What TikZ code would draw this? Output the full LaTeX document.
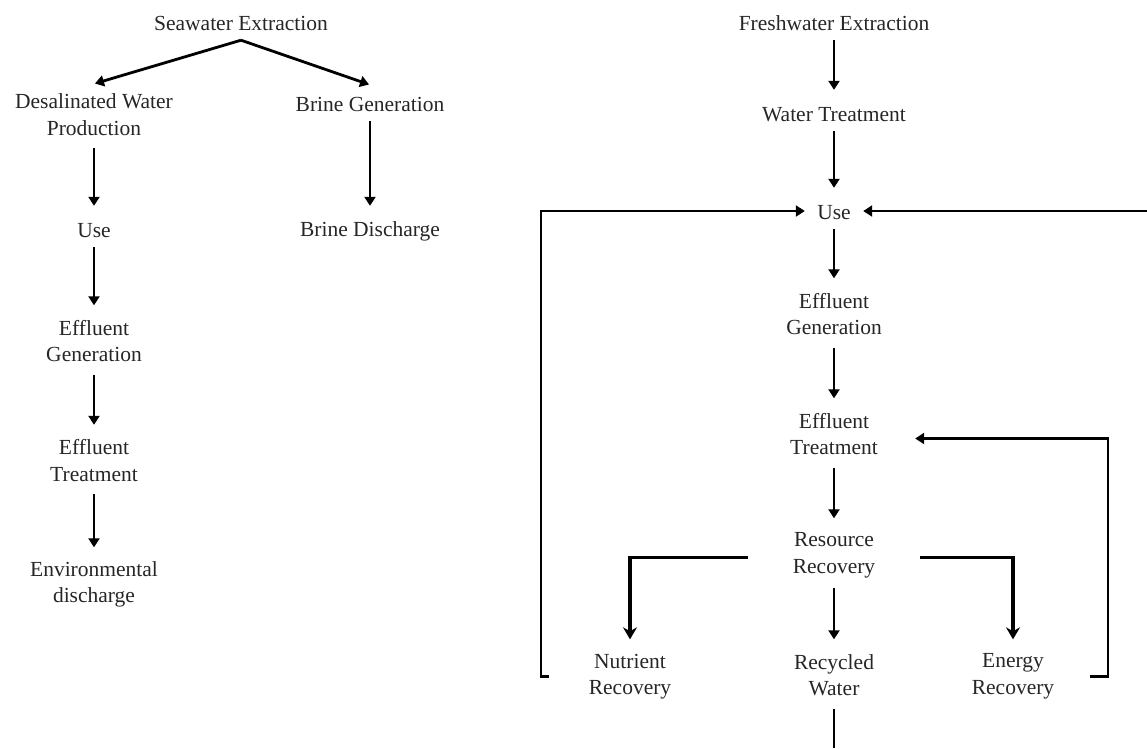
\documentclass[tikz,border=0pt]{standalone}
\usepackage{fontspec}
\setmainfont{Liberation Serif}
\usetikzlibrary{arrows.meta}
\newcommand{\mystrut}{\rule[-3pt]{0pt}{23pt}}
\begin{document}
\begin{tikzpicture}[x=1pt,y=-1pt,
 lab/.style={align=center, inner sep=0pt, font=\fontsize{21.5}{26.5}\selectfont, text=black!85,
   execute at begin node=\mystrut, execute at end node=\mystrut},
 one/.style={lab, minimum height=36pt},
 two/.style={lab, minimum height=64pt},
 arr/.style={line width=2.8pt, -{Triangle[length=9pt,width=11pt]}, shorten >=5pt},
 sidearr/.style={line width=3.2pt, -{Stealth[length=12pt,width=14pt,inset=4pt]}, shorten >=5pt},
 ln/.style={line width=2.8pt}]
\useasboundingbox (0,0) rectangle (1147,748);
% left flow
\node[one] (sea) at (241,22) {Seawater Extraction};
\node[two] (desal) at (94,116) {Desalinated Water\\Production};
\node[one] (bg) at (370,103) {Brine Generation};
\node[one] (bd) at (370,229) {Brine Discharge};
\node[one] (useL) at (94,229) {Use};
\node[two] (effgL) at (94,342.5) {Effluent\\Generation};
\node[two] (efftL) at (94,462) {Effluent\\Treatment};
\node[two] (env) at (94,584.5) {Environmental\\discharge};
\draw[arr, shorten >=1pt] (sea.south) -- (desal.north);
\draw[arr, shorten >=1pt] (sea.south) -- (bg.north);
\draw[arr] (desal) -- (useL);
\draw[arr] (bg) -- (bd);
\draw[arr] (useL) -- (effgL);
\draw[arr] (effgL) -- (efftL);
\draw[arr] (efftL) -- (env);
% right flow
\node[one] (fresh) at (834,22) {Freshwater Extraction};
\node[one] (wt) at (834,113) {Water Treatment};
\node[one, minimum width=58pt] (useR) at (834,211) {Use};
\node[two] (effgR) at (834,315.5) {Effluent\\Generation};
\node[two, minimum width=162pt] (efftR) at (834,435.5) {Effluent\\Treatment};
\node[two, minimum width=172pt] (rr) at (834,555.5) {Resource\\Recovery};
\node[two] (nr) at (630,676.5) {Nutrient\\Recovery};
\node[two] (rw) at (834,676.5) {Recycled\\Water};
\node[two] (er) at (1013,676.5) {Energy\\Recovery};
\draw[arr] (fresh) -- (wt);
\draw[arr] (wt) -- (useR);
\draw[arr] (useR) -- (effgR);
\draw[arr] (effgR) -- (efftR);
\draw[arr] (efftR) -- (rr);
\draw[arr] (rr) -- (rw);
\draw[sidearr] ([yshift=-2pt]rr.west) -| (nr.north);
\draw[sidearr] ([yshift=-2pt]rr.east) -| (er.north);
\coordinate (lt) at (549,676.5);
\coordinate (rt) at (1090,676.5);
\coordinate (redge) at (1147,211);
\coordinate (bot) at (834,748);
\draw[arr, shorten >=0pt] (lt) -- ++(-8,0) |- (useR.west);
\draw[arr, shorten >=0pt] (rt) -- ++(18,0) |- ([yshift=-3pt]efftR.east);
\draw[arr, shorten >=0pt] (redge) -- (useR.east);
\draw[ln] (rw.south) -- (bot);
\end{tikzpicture}
\end{document}
